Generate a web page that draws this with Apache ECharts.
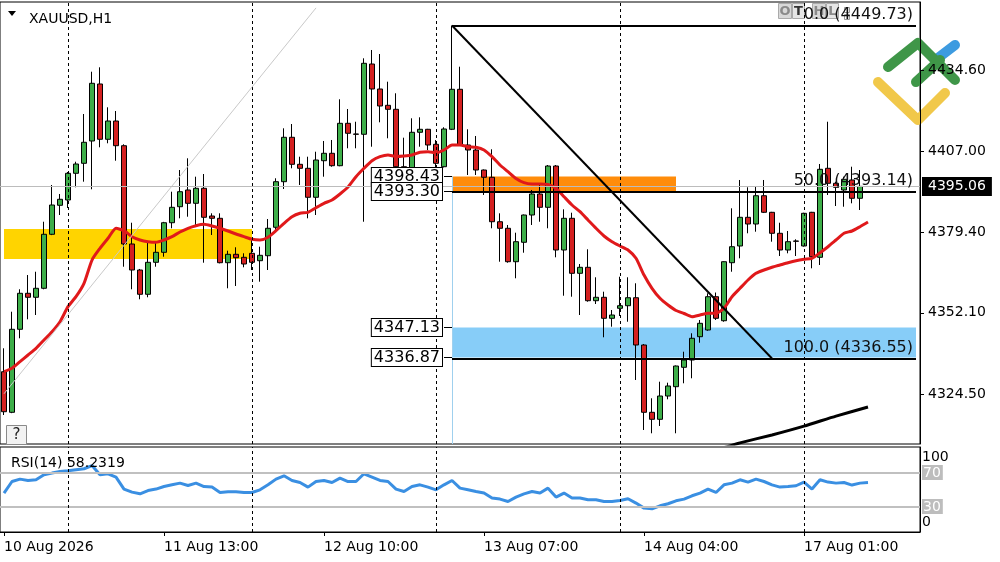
<!DOCTYPE html>
<html><head><meta charset="utf-8">
<script src="https://cdn.jsdelivr.net/npm/echarts@6/dist/echarts.min.js"></script>
<style>html,body{margin:0;padding:0;background:#fff}#c{width:1000px;height:562px}</style>
</head><body><div id="c"></div>
<script>
// ---- data (XAUUSD H1) ----
const opens=[4332.08,4318.29,4346.50,4358.73,4357.37,4360.43,4378.78,4388.63,4390.43,4399.50,4402.90,4410.48,4429.85,4411.06,4417.27,4408.88,4375.48,4366.64,4358.39,4369.26,4372.66,4382.71,4388.15,4393.83,4389.31,4394.41,4384.99,4384.21,4369.12,4371.98,4370.96,4372.32,4369.80,4371.50,4381.16,4396.65,4411.74,4402.56,4401.20,4391.35,4403.78,4406.30,4402.08,4416.49,4412.86,4412.76,4436.64,4428.15,4422.61,4421.25,4401.74,4399.70,4413.44,4414.46,4409.36,4401.74,4414.46,4428.05,4409.12,4407.42,4400.62,4398.15,4383.05,4380.82,4369.46,4376.06,4385.33,4392.47,4387.95,4401.98,4373.44,4384.21,4365.52,4367.56,4356.21,4357.37,4350.23,4353.63,4354.51,4357.23,4341.16,4318.29,4315.91,4323.83,4326.99,4333.58,4336.06,4343.98,4346.26,4357.57,4349.41,4369.12,4374.80,4384.55,4382.27,4391.89,4386.25,4379.12,4373.44,4376.50,4374.80,4386.25,4370.96,4401.20,4396.11,4393.83,4397.23,4391.01];
const closes=[4318.49,4346.50,4358.73,4357.37,4360.43,4378.78,4388.73,4390.67,4399.50,4402.66,4410.04,4430.09,4411.06,4417.27,4408.88,4375.48,4366.64,4358.39,4369.26,4372.66,4382.71,4387.95,4393.25,4389.31,4394.41,4384.55,4384.21,4369.12,4371.98,4370.82,4368.68,4369.26,4371.64,4380.82,4396.65,4411.74,4402.56,4401.20,4391.35,4404.02,4406.30,4402.08,4416.49,4413.10,4412.76,4436.88,4428.15,4422.37,4421.25,4401.74,4399.70,4413.44,4414.46,4409.12,4402.90,4414.56,4428.05,4409.12,4407.42,4400.62,4398.15,4383.05,4380.82,4369.46,4376.26,4385.33,4392.47,4387.95,4401.98,4373.44,4384.21,4365.52,4367.56,4356.21,4357.37,4350.23,4351.35,4354.51,4357.23,4341.16,4318.29,4315.91,4323.83,4327.23,4334.02,4336.06,4343.44,4348.53,4357.57,4350.23,4369.46,4374.56,4384.55,4382.27,4391.89,4386.25,4379.12,4373.44,4376.26,4376.40,4385.91,4371.16,4400.86,4396.11,4394.75,4397.47,4391.01,4395.06];
const lows=[4317.37,4318.00,4343.44,4349.89,4351.35,4360.09,4378.50,4385.33,4387.71,4394.75,4396.65,4394.07,4408.34,4409.70,4403.78,4367.76,4360.09,4356.69,4357.37,4367.76,4371.16,4380.82,4384.21,4384.75,4381.94,4369.12,4378.54,4368.90,4360.43,4361.21,4367.56,4366.64,4362.67,4366.64,4380.24,4394.17,4401.20,4395.53,4384.21,4385.33,4398.35,4401.74,4401.90,4408.00,4408.00,4383.05,4408.54,4416.83,4411.40,4401.50,4399.50,4399.50,4408.54,4407.42,4401.20,4401.50,4414.20,4408.90,4398.93,4398.93,4392.13,4380.82,4369.46,4369.12,4363.83,4372.52,4381.94,4383.05,4380.82,4370.96,4357.91,4357.57,4351.35,4355.87,4355.09,4343.78,4347.38,4351.01,4349.07,4329.27,4312.28,4311.16,4313.64,4322.71,4311.16,4328.15,4329.85,4341.94,4346.00,4349.65,4349.07,4366.06,4370.62,4379.12,4379.66,4386.00,4376.26,4371.40,4372.32,4371.40,4374.60,4367.22,4368.34,4392.13,4388.39,4388.15,4389.31,4387.03];
const highs=[4340.04,4352.47,4360.09,4364.94,4366.06,4383.05,4395.53,4392.47,4399.94,4403.44,4419.65,4434.02,4435.52,4421.93,4420.67,4409.36,4382.71,4367.00,4375.92,4375.92,4383.00,4393.25,4400.62,4404.60,4398.35,4399.26,4385.91,4385.91,4373.20,4374.36,4372.32,4376.84,4374.56,4383.97,4397.81,4414.80,4416.25,4405.14,4405.14,4406.84,4410.48,4410.82,4424.65,4421.35,4417.03,4438.58,4441.40,4440.04,4430.63,4426.69,4411.60,4418.19,4418.53,4414.60,4410.82,4415.14,4449.73,4435.72,4414.46,4412.18,4400.80,4407.66,4385.91,4381.94,4379.32,4385.50,4393.83,4396.11,4402.32,4402.32,4387.27,4386.11,4368.68,4373.68,4364.17,4359.27,4353.05,4364.37,4364.17,4362.13,4341.50,4323.05,4328.69,4328.35,4334.20,4338.88,4345.14,4349.65,4358.73,4358.99,4369.60,4387.61,4397.23,4394.75,4395.19,4397.23,4386.40,4382.71,4379.90,4377.08,4386.10,4386.40,4402.66,4417.03,4396.65,4398.35,4401.74,4400.62];
// moving average (red), one value per bar (+1 shifted)
const maFast=[4332.09,4333.24,4335.48,4337.76,4340.04,4342.86,4345.68,4349.08,4354.18,4357.57,4362.12,4370.04,4374.02,4377.42,4380.82,4380.00,4377.96,4376.84,4376.26,4376.06,4376.84,4377.96,4379.56,4380.82,4381.70,4382.18,4381.60,4380.82,4379.90,4378.88,4377.96,4377.08,4376.84,4377.76,4380.00,4382.51,4384.75,4385.91,4386.25,4387.81,4389.31,4390.43,4392.47,4394.85,4398.35,4401.20,4403.78,4405.14,4405.72,4405.21,4405.38,4405.72,4406.64,4406.84,4406.50,4407.42,4409.12,4409.12,4408.54,4408.34,4407.42,4405.14,4402.32,4400.05,4397.74,4396.31,4395.87,4395.87,4395.70,4394.41,4391.55,4388.73,4386.45,4383.63,4380.82,4378.20,4376.26,4374.80,4373.44,4370.62,4364.94,4360.43,4357.03,4354.75,4352.88,4351.86,4350.77,4351.35,4351.93,4351.93,4353.63,4357.57,4360.43,4363.25,4365.52,4366.64,4367.56,4368.34,4369.12,4369.80,4370.28,4370.62,4372.52,4374.56,4376.84,4379.12,4379.90,4381.36,4382.95];
// slow moving average (black), only its visible tail, read at a few bars
const maSlowPoints=[[90,4306.3],[92,4307.9],[96,4310.6],[100,4313.6],[104,4317.0],[108,4320.1]];
const rsi=[45.8,59.4,62.2,60.6,61.4,67.3,69.3,71.2,72,73.2,74.4,78.2,67.3,68.5,64.6,50.5,46.9,44.9,48.8,50.5,53.5,55.5,57.5,54.7,57.5,53.5,52.8,46.5,47.3,47.3,46.5,46.5,49.6,55.5,62.2,66.1,60.6,58.2,52.8,59.4,60.6,58.2,63.4,59.4,59.4,68.5,64.6,60.6,59.4,50.5,47.6,53.5,55.5,52.8,49.6,55.5,60.6,51.6,49.6,47.6,45.8,39.9,38.7,35.9,41.1,44.9,47.6,45.8,51.6,41.1,45.8,39.9,39.9,37.9,37.9,35.9,35.9,37.1,39.1,34.0,28.1,27.3,30.8,33.2,36.7,38.7,42.6,45.8,50.5,46.5,55.5,57.5,61.4,58.7,62.2,59.4,55.5,52.8,53.5,54.4,58.7,50.5,61.4,58.7,57.5,58.2,55.2,57.5,58.2319];
const timeTicks={0:'10 Aug 2026',20:'11 Aug 13:00',40:'12 Aug 10:00',60:'13 Aug 07:00',80:'14 Aug 04:00',100:'17 Aug 01:00'};
const daySeparators=[8,31,54,77,100];
const priceTicks=[4324.50,4352.10,4379.40,4407.00,4434.60];
const rsiTicks=[0,30,70,100];
const rsiLevels=[70,30];
const yellowZone=[4380.6,4370.4];
const orangeZone=[4398.43,4393.30];
const blueZone=[4347.13,4336.87];
const fibLevels=[[0.0,4449.73],[50.0,4393.14],[100.0,4336.55]];
const lastPrice=4395.06;
const rsiLast=58.2319;
const grayTrend=[[0,4324.6],[39,4455.7]];
// ---- chart ----
const NSLOT=115;
const categories=Array.from({length:NSLOT},(_,i)=>String(i));
const candles=opens.map((o,i)=>[o,closes[i],lows[i],highs[i]]);
const maSlow=new Array(NSLOT).fill(null);
maSlowPoints.forEach(([i,v])=>maSlow[i]=v);
const F='DejaVu Sans';
const yMin=4307.52,yMax=4457.71;
const fibStart=56,fibEnd=114,fibDiagEnd=96;
const sepLine=daySeparators.map(i=>({xAxis:String(i),lineStyle:{type:[3,3],color:'#000',width:1}}));
const boxLabel=v=>[{coord:[String(fibStart-1),v],label:{show:true,position:'start',distance:2,formatter:v.toFixed(2),fontFamily:F,fontSize:16,color:'#000',backgroundColor:'#fff',borderColor:'#000',borderWidth:1,padding:[1,2,0,2]},lineStyle:{color:'#000',width:1}},{coord:[String(fibStart),v]}];
const chart=echarts.init(document.getElementById('c'));
chart.setOption({
  animation:false,
  backgroundColor:'#fff',
  textStyle:{fontFamily:F},
  title:[
    {text:'XAUUSD,H1',left:24,top:7,textStyle:{fontSize:14,fontWeight:'normal',fontFamily:F,color:'#000'}},
    {text:'RSI(14) '+rsiLast.toFixed(4),left:6,top:451,textStyle:{fontSize:14,fontWeight:'normal',fontFamily:F,color:'#000'}}
  ],
  grid:[
    {left:0,top:2,width:920,height:442,show:true,borderColor:'#000',borderWidth:1,backgroundColor:'transparent'},
    {left:0,top:447,width:920,height:85,show:true,borderColor:'#000',borderWidth:1}
  ],
  xAxis:[
    {gridIndex:0,type:'category',data:categories,boundaryGap:true,axisLine:{show:false},axisTick:{show:false},axisLabel:{show:false},splitLine:{show:false}},
    {gridIndex:1,type:'category',data:categories,boundaryGap:true,
     axisLine:{show:true,lineStyle:{color:'#000'}},
     axisTick:{show:true,alignWithLabel:true,length:4,interval:(i)=>timeTicks[i]!==undefined,lineStyle:{color:'#000'}},
     axisLabel:{show:true,interval:(i)=>timeTicks[i]!==undefined,formatter:(v,i)=>timeTicks[i]||'',align:'left',color:'#000',fontFamily:F,fontSize:14,margin:8},
     splitLine:{show:false}}
  ],
  yAxis:[
    {gridIndex:0,type:'value',position:'right',min:yMin,max:yMax,
     axisLine:{show:true,lineStyle:{color:'#000'}},
     axisTick:{show:true,length:4,customValues:priceTicks,lineStyle:{color:'#000'}},
     axisLabel:{customValues:priceTicks,formatter:v=>v.toFixed(2),color:'#000',fontFamily:F,fontSize:14,margin:8},
     splitLine:{show:false}},
    {gridIndex:1,type:'value',position:'right',min:0,max:100,
     axisLine:{show:true,lineStyle:{color:'#000'}},
     axisTick:{show:false},
     axisLabel:{customValues:rsiTicks,margin:2,fontFamily:F,fontSize:14,color:'#000',showMaxLabel:true,showMinLabel:true,hideOverlap:false,
       formatter:v=>v===100?'{t|100}':v===0?'{b|0}':'{g|'+v+'}',
       rich:{t:{padding:[21,0,0,0],color:'#000',fontSize:14,fontFamily:F},
             b:{padding:[0,0,20,0],color:'#000',fontSize:14,fontFamily:F},
             g:{backgroundColor:'#bdbdbd',color:'#fff',fontSize:14,fontFamily:F,padding:[1,2,0,1]}}},
     splitLine:{show:false}}
  ],
  series:[
    {type:'candlestick',name:'XAUUSD',xAxisIndex:0,yAxisIndex:0,data:candles,barWidth:6,z:3,
     itemStyle:{color:'#3dae49',color0:'#d42020',borderColor:'#000',borderColor0:'#000',borderWidth:1},
     markArea:{silent:true,data:[
       [{coord:['0',yellowZone[0]],itemStyle:{color:'#ffd400'}},{coord:['31',yellowZone[1]]}],
       [{coord:[String(fibStart),orangeZone[0]],itemStyle:{color:'#ff8c0a'}},{coord:['84',orangeZone[1]]}],
       [{coord:[String(fibStart),blueZone[0]],itemStyle:{color:'#87cdf8'}},{coord:[String(fibEnd),blueZone[1]]}]
     ]},
     markLine:{silent:true,symbol:['none','none'],label:{show:false},lineStyle:{color:'#000',width:2,type:'solid'},data:[
       ...sepLine,
       [{coord:[String(grayTrend[0][0]),grayTrend[0][1]],lineStyle:{color:'#c9c9c9',width:1}},{coord:[String(grayTrend[1][0]),grayTrend[1][1]]}],
       {yAxis:lastPrice,lineStyle:{color:'#bcbcbc',width:1},label:{show:true,position:'end',distance:2,formatter:lastPrice.toFixed(2),color:'#fff',backgroundColor:'#000',fontFamily:F,fontSize:14,padding:[3,6,2,6]}},
       [{coord:[String(fibStart),orangeZone[0]],lineStyle:{color:'#9fd0ee',width:1}},{coord:[String(fibStart),yMin]}],
       ...fibLevels.map(([p,v])=>[{coord:[String(fibStart),v],label:{show:true,position:'insideEndTop',distance:3,formatter:p.toFixed(1)+' ('+v.toFixed(2)+')',color:'#111',fontFamily:F,fontSize:16}},{coord:[String(fibEnd),v]}]),
       [{coord:[String(fibStart),fibLevels[0][1]],lineStyle:{width:2}},{coord:[String(fibDiagEnd),fibLevels[2][1]]}],
       boxLabel(orangeZone[0]),boxLabel(orangeZone[1]),boxLabel(blueZone[0]),boxLabel(blueZone[1])
     ]}},
    {type:'line',name:'MA',xAxisIndex:0,yAxisIndex:0,data:maFast,symbol:'none',smooth:0.2,z:4,lineStyle:{color:'#e0191b',width:3}},
    {type:'line',name:'MA slow',xAxisIndex:0,yAxisIndex:0,data:maSlow,connectNulls:true,symbol:'none',smooth:0.2,z:4,lineStyle:{color:'#000',width:3}},
    {type:'line',name:'RSI',xAxisIndex:1,yAxisIndex:1,data:rsi,symbol:'none',z:4,lineStyle:{color:'#3a8fe2',width:3},
     markLine:{silent:true,symbol:['none','none'],label:{show:false},data:[
       ...rsiLevels.map(v=>({yAxis:v,lineStyle:{color:'#c0c0c0',width:2,type:'solid'}})),
       ...sepLine]}}
  ],
  graphic:[
    {type:'polygon',shape:{points:[[8,11],[16,11],[12,16]]},style:{fill:'#000'}},
    {type:'group',left:6,top:425,children:[
      {type:'rect',shape:{x:0,y:0,width:20,height:19},style:{fill:'#f2f2f2',stroke:'#8a8a8a'}},
      {type:'text',x:10,y:10,style:{text:'?',font:'15px '+F,fill:'#222',align:'center',verticalAlign:'middle'}}]},
    {type:'group',z:100,children:[
      {type:'polyline',shape:{points:[[878,82],[918,120],[945,93]]},style:{stroke:'#f1c84a',lineWidth:10,lineCap:'round',lineJoin:'round',fill:null}},
      {type:'line',shape:{x1:938,y1:58,x2:955,y2:45},style:{stroke:'#3d9be0',lineWidth:10,lineCap:'round'}},
      {type:'polyline',shape:{points:[[888,67],[918,43],[955,80]]},style:{stroke:'#3f9648',lineWidth:10,lineCap:'round',lineJoin:'round',fill:null}},
      {type:'line',shape:{x1:916,y1:82,x2:940,y2:60},style:{stroke:'#3f9648',lineWidth:10,lineCap:'round'}},
      {type:'line',shape:{x1:920.5,y1:36,x2:920.5,y2:128},style:{stroke:'#000',lineWidth:1}}]},
    {type:'group',left:778,top:3,z:100,children:[
      {type:'rect',shape:{x:0,y:0,width:13,height:15},style:{fill:'#d8d8d8',stroke:'#aaa'}},
      {type:'text',x:6.5,y:8,style:{text:'O',font:'bold 13px '+F,fill:'#8a8a8a',align:'center',verticalAlign:'middle'}},
      {type:'rect',shape:{x:14,y:0,width:12,height:15},style:{fill:'#e6e6e6',stroke:'#aaa'}},
      {type:'text',x:20,y:8,style:{text:'T',font:'bold 13px '+F,fill:'#333',align:'center',verticalAlign:'middle'}},
      {type:'rect',shape:{x:34,y:0,width:13,height:15},style:{fill:'#d8d8d8',stroke:'#aaa'}},
      {type:'text',x:40.5,y:8,style:{text:'H',font:'bold 13px '+F,fill:'#8a8a8a',align:'center',verticalAlign:'middle'}},
      {type:'rect',shape:{x:48,y:0,width:12,height:15},style:{fill:'#e6e6e6',stroke:'#aaa'}},
      {type:'text',x:54,y:8,style:{text:'L',font:'bold 13px '+F,fill:'#8a8a8a',align:'center',verticalAlign:'middle'}},
      {type:'rect',shape:{x:66,y:4,width:5,height:5},style:{fill:'#fff',stroke:'#999'}},
      {type:'rect',shape:{x:66,y:11,width:5,height:5},style:{fill:'#fff',stroke:'#999'}}]}
  ]
});
</script></body></html>
